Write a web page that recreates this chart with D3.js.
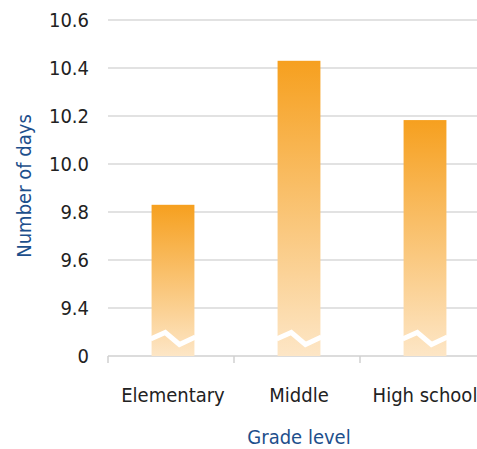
<!DOCTYPE html>
<html>
<head>
<meta charset="utf-8">
<script src="https://cdn.jsdelivr.net/npm/d3@7"></script>
<style>
  body { margin: 0; background: #fff; }
  text { font-family: "DejaVu Sans Condensed", "DejaVu Sans", sans-serif; font-stretch: condensed; }
</style>
</head>
<body>
<div id="chart"></div>
<script>
// DATA
const categories = ['Elementary', 'Middle', 'High school'];
const values = [9.83, 10.43, 10.183];
const yTicks = [9.2, 9.4, 9.6, 9.8, 10.0, 10.2, 10.4, 10.6];
const yTickLabels = ['0', '9.4', '9.6', '9.8', '10.0', '10.2', '10.4', '10.6'];

const width = 477, height = 449;

const svg = d3.select('#chart')
  .append('svg')
  .attr('width', width)
  .attr('height', height);

// GRADIENT
const grad = svg.append('defs').append('linearGradient')
  .attr('id', 'barGrad')
  .attr('x1', 0).attr('y1', 0).attr('x2', 0).attr('y2', 1);
grad.append('stop').attr('offset', '0%').attr('stop-color', '#f6a01f');
grad.append('stop').attr('offset', '100%').attr('stop-color', '#fde6c6');

// SCALES (axis is broken: the bottom tick 9.2 stands for 0)
const xScale = d3.scaleBand()
  .domain(categories)
  .range([110, 488])
  .paddingInner(0.66)
  .paddingOuter(0.33);

const yScale = d3.scaleLinear()
  .domain([9.2, 10.6])
  .range([356, 20]);

// GRID
svg.append('g')
  .selectAll('line')
  .data(yTicks.slice(1))
  .enter()
  .append('line')
  .attr('x1', 108)
  .attr('x2', width)
  .attr('y1', d => yScale(d))
  .attr('y2', d => yScale(d))
  .attr('stroke', '#d9d9d9')
  .attr('stroke-width', 1.5);

// Y AXIS LABELS
const yAxis = svg.append('g')
  .attr('transform', 'translate(89,0)')
  .call(d3.axisLeft(yScale).tickValues(yTicks).tickFormat((d, i) => yTickLabels[i]).tickSize(0).tickPadding(0));
yAxis.select('.domain').remove();
yAxis.selectAll('text')
  .attr('font-size', 20)
  .attr('fill', '#222')
  .style('font-family', '"DejaVu Sans Condensed", "DejaVu Sans", sans-serif');

// BASELINE + BOUNDARY TICKS
svg.append('line')
  .attr('x1', 108).attr('x2', width)
  .attr('y1', yScale(9.2)).attr('y2', yScale(9.2))
  .attr('stroke', '#d0d0d0').attr('stroke-width', 1.5);

const step = xScale.step();
svg.append('g')
  .selectAll('line')
  .data(categories)
  .enter()
  .append('line')
  .attr('x1', d => xScale(d) + xScale.bandwidth() / 2 - step / 2 - 2)
  .attr('x2', d => xScale(d) + xScale.bandwidth() / 2 - step / 2 - 2)
  .attr('y1', yScale(9.2))
  .attr('y2', yScale(9.2) + 7)
  .attr('stroke', '#d0d0d0')
  .attr('stroke-width', 1.5);

// BARS
const bars = svg.append('g')
  .selectAll('g')
  .data(categories)
  .enter()
  .append('g');

bars.append('rect')
  .attr('x', d => xScale(d))
  .attr('width', xScale.bandwidth())
  .attr('y', (d, i) => yScale(values[i]))
  .attr('height', (d, i) => yScale(9.2) - yScale(values[i]))
  .attr('fill', 'url(#barGrad)');

// BREAK MARKS
bars.append('polyline')
  .attr('points', d => {
    const x0 = xScale(d), w = xScale.bandwidth();
    return [[x0 - 1, 339], [x0 + w * 0.32, 332.5], [x0 + w * 0.65, 344.5], [x0 + w + 1, 337]]
      .map(p => p.join(',')).join(' ');
  })
  .attr('fill', 'none')
  .attr('stroke', '#fff')
  .attr('stroke-width', 5);

// X LABELS
svg.append('g')
  .selectAll('text')
  .data(categories)
  .enter()
  .append('text')
  .attr('x', d => xScale(d) + xScale.bandwidth() / 2)
  .attr('y', 402)
  .attr('text-anchor', 'middle')
  .attr('font-size', 20)
  .attr('fill', '#222')
  .text(d => d);

// AXIS TITLES
svg.append('text')
  .attr('x', 299)
  .attr('y', 444)
  .attr('text-anchor', 'middle')
  .attr('font-size', 20)
  .attr('fill', '#1d4f8c')
  .text('Grade level');

svg.append('text')
  .attr('transform', 'translate(31,186)rotate(-90)')
  .attr('text-anchor', 'middle')
  .attr('font-size', 20)
  .attr('fill', '#1d4f8c')
  .text('Number of days');
</script>
</body>
</html>
